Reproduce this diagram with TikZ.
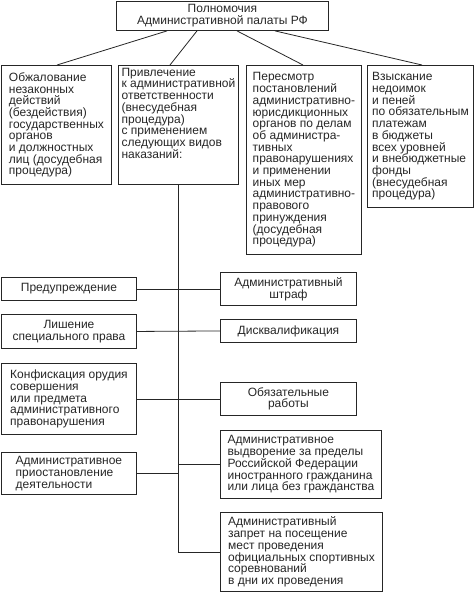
\documentclass[tikz,border=0pt]{standalone}
\usepackage{fontspec}
\setmainfont{Liberation Sans}
\definecolor{ink}{HTML}{262626}
\tikzset{
  box/.style={draw=ink, line width=0.9pt, anchor=north west, inner xsep=1pt, inner ysep=1pt,
    text=ink, font=\fontsize{12}{11.7}\selectfont, align=left},
  cbox/.style={box, align=center},
  conn/.style={draw=ink, line width=0.8pt}
}
\begin{document}
\begin{tikzpicture}[x=1pt,y=-1pt]
\useasboundingbox (0,0) rectangle (474,592);
\node[cbox, minimum width=212pt, minimum height=29pt] (top) at (116,1) {Полномочия\\Административной палаты РФ};

\node[box, minimum width=110pt, minimum height=119pt] (b1) at (1,65)
 {Обжалование\\незаконных\\действий\\(бездействия)\\государственных\\органов\\и должностных\\лиц (досудебная\\процедура)};
\node[box, minimum width=120pt, minimum height=119pt] (b2) at (118,65)
 {Привлечение\\к административной\\ответственности\\(внесудебная\\процедура)\\с применением\\следующих видов\\наказаний:\\[12pt]~};
\node[box, minimum width=115pt, minimum height=189pt] (b3) at (246,65)
 {Пересмотр\\постановлений\\административно-\\юрисдикционных\\органов по делам\\об администра-\\тивных\\правонарушениях\\и применении\\иных мер\\административно-\\правового\\принуждения\\(досудебная\\процедура)};
\node[box, minimum width=106pt, minimum height=142pt] (b4) at (367,65)
 {Взыскание\\недоимок\\и пеней\\по обязательным\\платежам\\в бюджеты\\всех уровней\\и внебюджетные\\фонды\\(внесудебная\\процедура)};

\node[cbox, minimum width=135pt, minimum height=23pt] (pred) at (1,277) {Предупреждение};
\node[cbox, minimum width=135pt, minimum height=34pt] (lish) at (1,314) {Лишение\\специального права};
\node[box, minimum width=135pt, minimum height=71pt] (konf) at (1,363)
 {Конфискация орудия\\совершения\\или предмета\\административного\\правонарушения};
\node[box, minimum width=135pt, minimum height=42pt] (prio) at (1,452)
 {Административное\\приостановление\\деятельности};

\node[cbox, minimum width=136pt, minimum height=33pt] (shtraf) at (220,272) {Административный\\штраф};
\node[cbox, minimum width=136pt, minimum height=23pt] (disk) at (220,319) {Дисквалификация};
\node[cbox, minimum width=136pt, minimum height=33pt] (obyaz) at (220,382) {Обязательные\\работы};
\node[box, minimum width=161pt, minimum height=68pt] (vyd) at (220,430)
 {Административное\\выдворение за пределы\\Российской Федерации\\иностранного гражданина\\или лица без гражданства};
\node[box, minimum width=162pt, minimum height=79pt] (zap) at (220,512)
 {Административный\\запрет на посещение\\мест проведения\\официальных спортивных\\соревнований\\в дни их проведения};

\draw[conn] ([xshift=51pt]top.south west) -- ([xshift=56pt]b1.north west);
\draw[conn] ([xshift=81pt]top.south west) -- ([xshift=52pt]b2.north west);
\draw[conn] ([xshift=121pt]top.south west) -- ([xshift=57pt]b3.north west);
\draw[conn] ([xshift=159pt]top.south west) -- ([xshift=55pt]b4.north west);

\draw[conn] (b2.south) |- (zap.west);
\draw[conn] (pred.east) -- (shtraf.west);
\draw[conn] (lish.east) -- (disk.west);
\draw[conn] (konf.east) -- (obyaz.west);
\draw[conn] (prio.east) -- (prio.east -| b2.south);
\draw[conn] (vyd.west -| b2.south) -- (vyd.west);
\end{tikzpicture}
\end{document}
